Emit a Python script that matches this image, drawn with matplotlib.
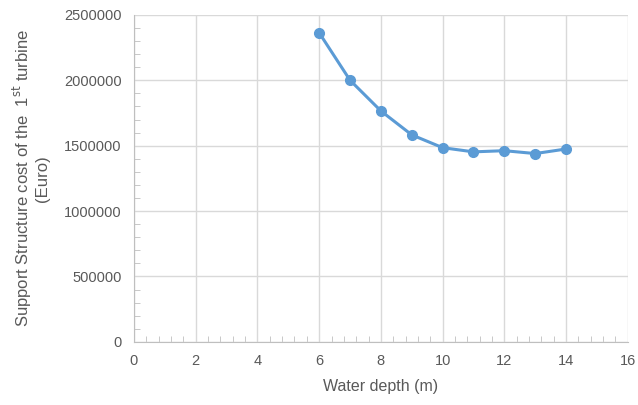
import matplotlib
matplotlib.use('Agg')
import matplotlib.pyplot as plt
from matplotlib.ticker import MultipleLocator, FuncFormatter

# Water depth vs. support structure cost
depth = [6, 7, 8, 9, 10, 11, 12, 13, 14]
cost = [2364000, 2001000, 1766000, 1583000, 1485000, 1453000, 1462000, 1440000, 1475000]

plt.rcParams['font.family'] = ['Liberation Sans', 'DejaVu Sans']
text_col = '#595959'
grid_col = '#d9d9d9'
axis_col = '#bfbfbf'

fig = plt.figure(figsize=(6.38, 4.05), dpi=100)
ax = fig.add_axes([0.210, 0.156, 0.774, 0.807])

ax.plot(depth, cost, color='#5B9BD5', linewidth=2.2, marker='o', markersize=7, zorder=3)

ax.set_xlim(0, 16)
ax.set_ylim(0, 2500000)
ax.xaxis.set_major_locator(MultipleLocator(2))
ax.xaxis.set_minor_locator(MultipleLocator(0.4))
ax.yaxis.set_major_locator(MultipleLocator(500000))
ax.yaxis.set_minor_locator(MultipleLocator(100000))
ax.yaxis.set_major_formatter(FuncFormatter(lambda v, p: '%d' % v))

ax.grid(which='major', color=grid_col, linewidth=1)
ax.set_axisbelow(True)
for s in ['top', 'right']:
    ax.spines[s].set_visible(False)
for s in ['left', 'bottom']:
    ax.spines[s].set_color(axis_col)

ax.tick_params(which='major', length=0, labelsize=10.5, labelcolor=text_col, pad=9)
ax.tick_params(which='minor', direction='in', length=4, color=axis_col)

ax.set_xlabel('Water depth (m)', fontsize=11.5, color=text_col, labelpad=8)
ax.set_ylabel('Support Structure cost of the  1$^{\\mathrm{st}}$ turbine\n(Euro)',
              fontsize=12, color=text_col, labelpad=10, linespacing=1.1)

fig.savefig('out.png', dpi=100)
